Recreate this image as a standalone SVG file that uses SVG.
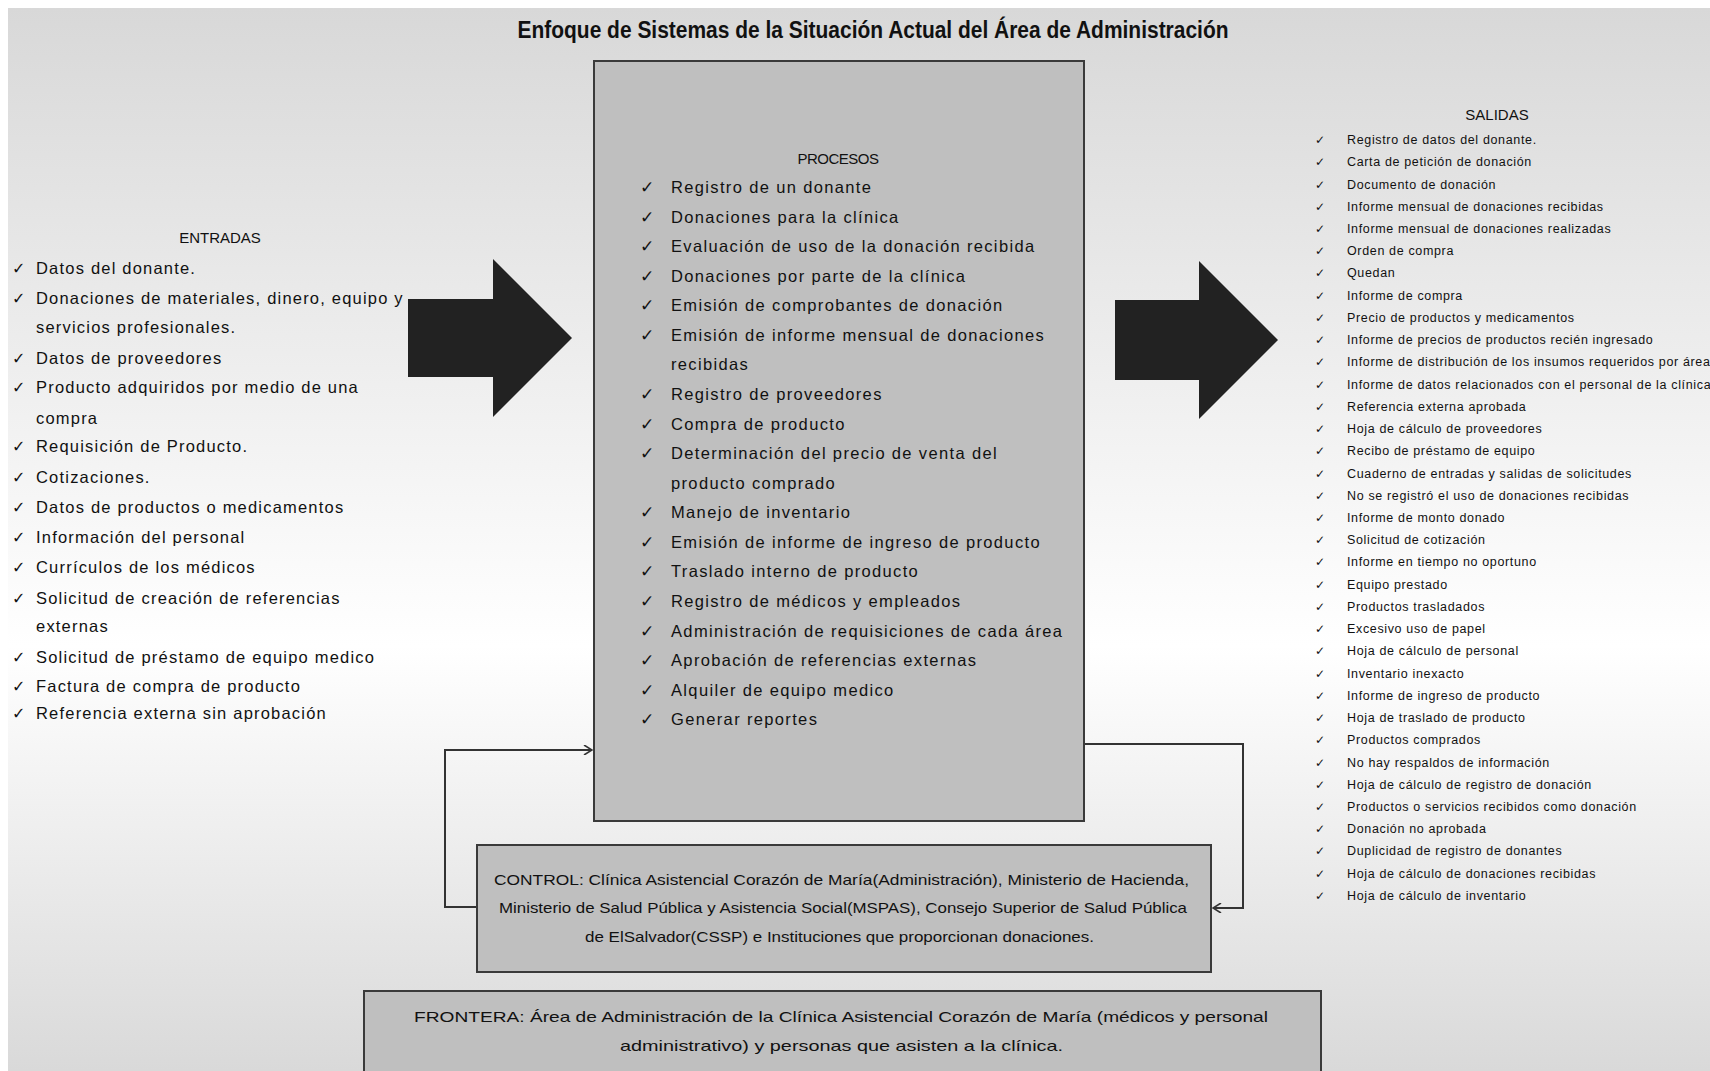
<svg xmlns="http://www.w3.org/2000/svg" width="1710" height="1071" viewBox="0 0 1710 1071">
  <defs>
    <linearGradient id="bg" x1="0" y1="0" x2="0" y2="1">
      <stop offset="0" stop-color="#d8d8d8"/>
      <stop offset="0.6" stop-color="#ffffff"/>
      <stop offset="1" stop-color="#d9d9d9"/>
    </linearGradient>
    <marker id="chev" viewBox="0 0 10 10" refX="9" refY="5" markerWidth="10" markerHeight="10" markerUnits="userSpaceOnUse" orient="auto">
      <path d="M1,0 L9,5 L1,10" fill="none" stroke="#333" stroke-width="1.6"/>
    </marker>
    <style>
      .box { fill: #bfbfbf; stroke: #3a3a3a; stroke-width: 2; }
      .big { fill: #222; }
      .conn { fill: none; stroke: #333; stroke-width: 2; }
      .title { font-family: "Liberation Sans", Arial, sans-serif; font-weight: bold; font-size: 23px; fill: #111; }
      .head { font-family: "Liberation Sans", Arial, sans-serif; font-size: 15px; fill: #111; }
      .ent { font-family: "Liberation Sans", Arial, sans-serif; font-size: 16.5px; letter-spacing: 1.2px; fill: #111; }
      .pro { font-family: "Liberation Sans", Arial, sans-serif; font-size: 16.5px; letter-spacing: 1.35px; fill: #111; }
      .sal { font-family: "Liberation Sans", Arial, sans-serif; font-size: 12.5px; letter-spacing: 0.65px; fill: #111; }
      .chk { font-family: "DejaVu Sans", sans-serif; fill: #111; }
      .note { font-family: "Liberation Sans", Arial, sans-serif; font-size: 15px; fill: #111; }
    </style>
  </defs>

  <!-- page background -->
  <rect x="0" y="0" width="1710" height="1071" fill="#ffffff"/>
  <rect x="8" y="8" width="1702" height="1063" fill="url(#bg)"/>

  <text class="title" x="873" y="38" text-anchor="middle" textLength="711" lengthAdjust="spacingAndGlyphs">Enfoque de Sistemas de la Situación Actual del Área de Administración</text>

  <!-- feedback loop connectors -->
  <g id="connectors">
    <path class="conn" d="M477,907 H445 V750 H592" marker-end="url(#chev)"/>
    <path class="conn" d="M1084,744 H1243 V908 H1213" marker-end="url(#chev)"/>
  </g>

  <!-- inputs -->
  <g id="entradas">
    <text class="head" x="220" y="243" text-anchor="middle">ENTRADAS</text>
    <g class="chk" font-size="16">
      <text x="12" y="274">✓</text>
      <text x="12" y="304">✓</text>
      <text x="12" y="364">✓</text>
      <text x="12" y="393">✓</text>
      <text x="12" y="452">✓</text>
      <text x="12" y="483">✓</text>
      <text x="12" y="513">✓</text>
      <text x="12" y="543">✓</text>
      <text x="12" y="573">✓</text>
      <text x="12" y="604">✓</text>
      <text x="12" y="663">✓</text>
      <text x="12" y="692">✓</text>
      <text x="12" y="719">✓</text>
    </g>
    <g class="ent">
      <text x="36" y="274">Datos del donante.</text>
      <text x="36" y="304">Donaciones de materiales, dinero, equipo y</text>
      <text x="36" y="333">servicios profesionales.</text>
      <text x="36" y="364">Datos de proveedores</text>
      <text x="36" y="393">Producto adquiridos por medio de una</text>
      <text x="36" y="424">compra</text>
      <text x="36" y="452">Requisición de Producto.</text>
      <text x="36" y="483">Cotizaciones.</text>
      <text x="36" y="513">Datos de productos o medicamentos</text>
      <text x="36" y="543">Información del personal</text>
      <text x="36" y="573">Currículos de los médicos</text>
      <text x="36" y="604">Solicitud de creación de referencias</text>
      <text x="36" y="632">externas</text>
      <text x="36" y="663">Solicitud de préstamo de equipo medico</text>
      <text x="36" y="692">Factura de compra de producto</text>
      <text x="36" y="719">Referencia externa sin aprobación</text>
    </g>
  </g>

  <g id="arrow-in">
    <polygon class="big" points="408,299 493,299 493,259 572,338 493,417 493,377 408,377"/>
  </g>

  <!-- process block -->
  <g id="procesos">
    <rect class="box" x="594" y="61" width="490" height="760"/>
    <text class="head" x="838" y="164" text-anchor="middle" font-size="14" letter-spacing="-0.5">PROCESOS</text>
    <g class="chk" font-size="17">
      <text x="640" y="193">✓</text>
      <text x="640" y="223">✓</text>
      <text x="640" y="252">✓</text>
      <text x="640" y="282">✓</text>
      <text x="640" y="311">✓</text>
      <text x="640" y="341">✓</text>
      <text x="640" y="400">✓</text>
      <text x="640" y="430">✓</text>
      <text x="640" y="459">✓</text>
      <text x="640" y="518">✓</text>
      <text x="640" y="548">✓</text>
      <text x="640" y="577">✓</text>
      <text x="640" y="607">✓</text>
      <text x="640" y="637">✓</text>
      <text x="640" y="666">✓</text>
      <text x="640" y="696">✓</text>
      <text x="640" y="725">✓</text>
    </g>
    <g class="pro">
      <text x="671" y="193">Registro de un donante</text>
      <text x="671" y="223">Donaciones para la clínica</text>
      <text x="671" y="252">Evaluación de uso de la donación recibida</text>
      <text x="671" y="282">Donaciones por parte de la clínica</text>
      <text x="671" y="311">Emisión de comprobantes de donación</text>
      <text x="671" y="341">Emisión de informe mensual de donaciones</text>
      <text x="671" y="370">recibidas</text>
      <text x="671" y="400">Registro de proveedores</text>
      <text x="671" y="430">Compra de producto</text>
      <text x="671" y="459">Determinación del precio de venta del</text>
      <text x="671" y="489">producto comprado</text>
      <text x="671" y="518">Manejo de inventario</text>
      <text x="671" y="548">Emisión de informe de ingreso de producto</text>
      <text x="671" y="577">Traslado interno de producto</text>
      <text x="671" y="607">Registro de médicos y empleados</text>
      <text x="671" y="637">Administración de requisiciones de cada área</text>
      <text x="671" y="666">Aprobación de referencias externas</text>
      <text x="671" y="696">Alquiler de equipo medico</text>
      <text x="671" y="725">Generar reportes</text>
    </g>
  </g>

  <g id="arrow-out">
    <polygon class="big" points="1115,300 1199,300 1199,261 1278,340 1199,419 1199,380 1115,380"/>
  </g>

  <!-- outputs -->
  <g id="salidas">
    <text class="head" x="1497" y="120" text-anchor="middle" font-size="16">SALIDAS</text>
    <g class="chk" font-size="12" text-anchor="middle">
      <text x="1320" y="144">✓</text><text x="1320" y="166">✓</text><text x="1320" y="189">✓</text><text x="1320" y="211">✓</text><text x="1320" y="233">✓</text>
      <text x="1320" y="255">✓</text><text x="1320" y="277">✓</text><text x="1320" y="300">✓</text><text x="1320" y="322">✓</text><text x="1320" y="344">✓</text>
      <text x="1320" y="366">✓</text><text x="1320" y="389">✓</text><text x="1320" y="411">✓</text><text x="1320" y="433">✓</text><text x="1320" y="455">✓</text>
      <text x="1320" y="478">✓</text><text x="1320" y="500">✓</text><text x="1320" y="522">✓</text><text x="1320" y="544">✓</text><text x="1320" y="566">✓</text>
      <text x="1320" y="589">✓</text><text x="1320" y="611">✓</text><text x="1320" y="633">✓</text><text x="1320" y="655">✓</text><text x="1320" y="678">✓</text>
      <text x="1320" y="700">✓</text><text x="1320" y="722">✓</text><text x="1320" y="744">✓</text><text x="1320" y="767">✓</text><text x="1320" y="789">✓</text>
      <text x="1320" y="811">✓</text><text x="1320" y="833">✓</text><text x="1320" y="855">✓</text><text x="1320" y="878">✓</text><text x="1320" y="900">✓</text>
    </g>
    <g class="sal">
      <text x="1347" y="144">Registro de datos del donante.</text>
      <text x="1347" y="166">Carta de petición de donación</text>
      <text x="1347" y="189">Documento de donación</text>
      <text x="1347" y="211">Informe mensual de donaciones recibidas</text>
      <text x="1347" y="233">Informe mensual de donaciones realizadas</text>
      <text x="1347" y="255">Orden de compra</text>
      <text x="1347" y="277">Quedan</text>
      <text x="1347" y="300">Informe de compra</text>
      <text x="1347" y="322">Precio de productos y medicamentos</text>
      <text x="1347" y="344">Informe de precios de productos recién ingresado</text>
      <text x="1347" y="366">Informe de distribución de los insumos requeridos por área</text>
      <text x="1347" y="389">Informe de datos relacionados con el personal de la clínica</text>
      <text x="1347" y="411">Referencia externa aprobada</text>
      <text x="1347" y="433">Hoja de cálculo de proveedores</text>
      <text x="1347" y="455">Recibo de préstamo de equipo</text>
      <text x="1347" y="478">Cuaderno de entradas y salidas de solicitudes</text>
      <text x="1347" y="500">No se registró el uso de donaciones recibidas</text>
      <text x="1347" y="522">Informe de monto donado</text>
      <text x="1347" y="544">Solicitud de cotización</text>
      <text x="1347" y="566">Informe en tiempo no oportuno</text>
      <text x="1347" y="589">Equipo prestado</text>
      <text x="1347" y="611">Productos trasladados</text>
      <text x="1347" y="633">Excesivo uso de papel</text>
      <text x="1347" y="655">Hoja de cálculo de personal</text>
      <text x="1347" y="678">Inventario inexacto</text>
      <text x="1347" y="700">Informe de ingreso de producto</text>
      <text x="1347" y="722">Hoja de traslado de producto</text>
      <text x="1347" y="744">Productos comprados</text>
      <text x="1347" y="767">No hay respaldos de información</text>
      <text x="1347" y="789">Hoja de cálculo de registro de donación</text>
      <text x="1347" y="811">Productos o servicios recibidos como donación</text>
      <text x="1347" y="833">Donación no aprobada</text>
      <text x="1347" y="855">Duplicidad de registro de donantes</text>
      <text x="1347" y="878">Hoja de cálculo de donaciones recibidas</text>
      <text x="1347" y="900">Hoja de cálculo de inventario</text>
    </g>
  </g>

  <!-- control block -->
  <g id="control">
    <rect class="box" x="477" y="845" width="734" height="127"/>
    <text class="note" x="494" y="885" textLength="695" lengthAdjust="spacingAndGlyphs">CONTROL: Clínica Asistencial Corazón de María(Administración),   Ministerio de Hacienda,</text>
    <text class="note" x="499" y="913" textLength="688" lengthAdjust="spacingAndGlyphs">Ministerio de Salud Pública y Asistencia Social(MSPAS), Consejo Superior de Salud Pública</text>
    <text class="note" x="585" y="942" textLength="509" lengthAdjust="spacingAndGlyphs">de ElSalvador(CSSP) e Instituciones que proporcionan donaciones.</text>
  </g>

  <!-- boundary block -->
  <g id="frontera">
    <rect class="box" x="364" y="991" width="957" height="95"/>
    <text class="note" x="414" y="1022" font-size="16" textLength="854" lengthAdjust="spacingAndGlyphs">FRONTERA:  Área de Administración de la Clínica Asistencial Corazón de María (médicos y personal</text>
    <text class="note" x="620" y="1051" font-size="16" textLength="443" lengthAdjust="spacingAndGlyphs">administrativo) y personas que asisten a la clínica.</text>
  </g>
</svg>
